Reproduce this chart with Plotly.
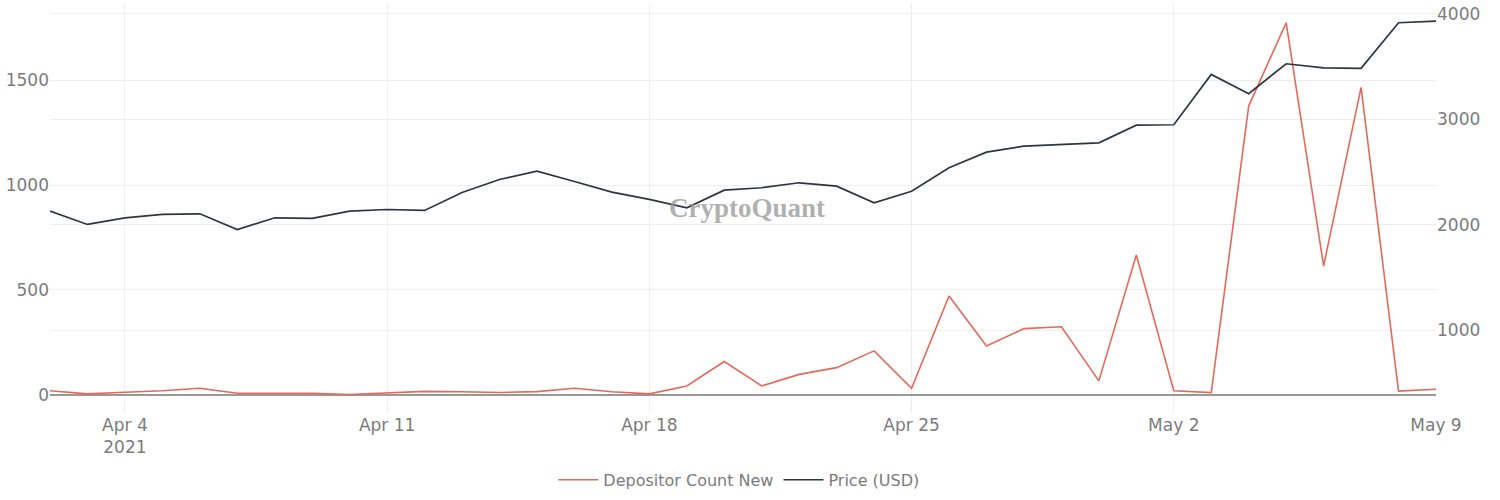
import pandas as pd
import plotly.graph_objects as go

dates = pd.date_range("2021-04-02", "2021-05-09", freq="D")

depositor_count_new = [20, 5, 13, 20, 32, 8, 8, 8, 2, 8, 17, 15, 12, 16, 32, 15, 5, 43,
                       159, 43, 98, 130, 210, 32, 471, 233, 316, 325, 67, 667, 20, 11,
                       1376, 1773, 614, 1465, 18, 27]

price_usd = [2131, 2005, 2068, 2100, 2106, 1957, 2068, 2062, 2131, 2147, 2138, 2308,
             2431, 2510, 2412, 2311, 2242, 2163, 2330, 2353, 2400, 2368, 2211, 2320,
             2542, 2690, 2747, 2760, 2779, 2946, 2950, 3427, 3244, 3528, 3490, 3484,
             3917, 3932]

left_ticks = [0, 500, 1000, 1500]
right_ticks = [1000, 2000, 3000, 4000]

FONT = "DejaVu Sans"
TXT = "#7b7b7b"

fig = go.Figure()
fig.add_trace(go.Scatter(x=dates, y=depositor_count_new, name="Depositor Count New",
                         mode="lines", line=dict(color="#e5695a", width=1.6), yaxis="y"))
fig.add_trace(go.Scatter(x=dates, y=price_usd, name="Price (USD)",
                         mode="lines", line=dict(color="#2f3540", width=1.7), yaxis="y2"))

fig.add_annotation(text="<b>CryptoQuant</b>", x=0.503, y=0.5, xref="paper", yref="paper",
                   xanchor="center", yanchor="middle", showarrow=False,
                   font=dict(family="Liberation Serif", size=27, color="rgba(150,150,150,0.75)"))

fig.update_layout(
    width=1500, height=500,
    paper_bgcolor="white", plot_bgcolor="white",
    margin=dict(l=50, r=64, t=3, b=87, autoexpand=False),
    font=dict(family=FONT, size=17, color=TXT),
    showlegend=True,
    legend=dict(orientation="h", x=0.497, xanchor="center", y=-0.163, yanchor="middle",
                itemwidth=40, font=dict(family=FONT, size=16, color=TXT)),
    xaxis=dict(range=[dates[0], dates[-1]], tick0="2021-04-04", dtick=7 * 86400000,
               showgrid=True, gridcolor="#eeeeee", showline=False, zeroline=False,
               automargin=False, tickfont=dict(size=17, color=TXT)),
    yaxis=dict(range=[-86, 1867], tickvals=left_ticks, showgrid=True, gridcolor="#eeeeee",
               zeroline=True, zerolinecolor="#999999", zerolinewidth=2, automargin=False,
               tickfont=dict(size=17, color=TXT)),
    yaxis2=dict(range=[218, 4104], tickvals=right_ticks, overlaying="y", side="right",
                showgrid=True, gridcolor="#eeeeee", zeroline=False, automargin=False,
                tickfont=dict(size=17, color=TXT)),
)

fig.write_html("out.html", config={"displayModeBar": False},
               post_script="document.body.style.margin='0px';document.body.style.overflow='hidden';")
